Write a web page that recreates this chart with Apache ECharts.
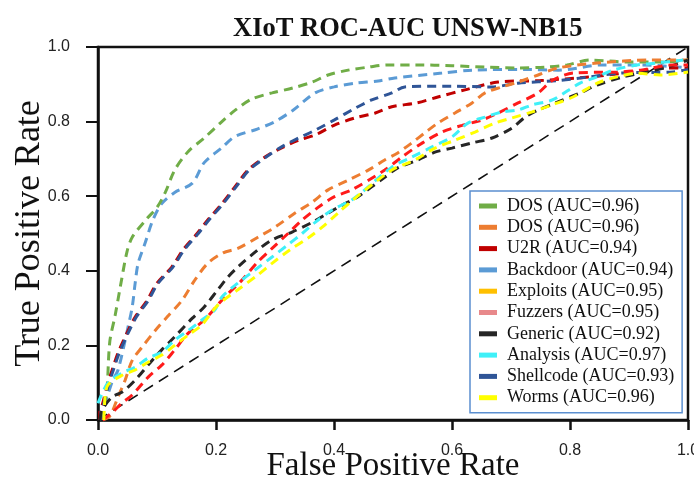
<!DOCTYPE html>
<html>
<head>
<meta charset="utf-8">
<script src="https://cdn.jsdelivr.net/npm/echarts@6/dist/echarts.min.js"></script>
<style>html,body{margin:0;padding:0;background:#fff}#c{width:694px;height:487px}</style>
</head>
<body>
<div id="c"></div>
<script>
const chartTitle = 'XIoT ROC-AUC UNSW-NB15';
const xName = 'False Positive Rate';
const yName = 'True Positive Rate';
const xTicks = [0, 0.2, 0.4, 0.6, 0.8, 1.0];
const yTicks = [0, 0.2, 0.4, 0.6, 0.8, 1.0];

const seriesNames = ['DOS (AUC=0.96)', 'DOS (AUC=0.96) ', 'U2R (AUC=0.94)', 'Backdoor (AUC=0.94)', 'Exploits (AUC=0.95)', 'Fuzzers (AUC=0.95)', 'Generic (AUC=0.92)', 'Analysis (AUC=0.97)', 'Shellcode (AUC=0.93)', 'Worms (AUC=0.96)'];
const legendColors = ['#70ad47', '#ed7d31', '#c00000', '#5b9bd5', '#ffc000', '#e8898b', '#262626', '#3ff0f8', '#2f5597', '#ffff00'];
const lineColors = ['#70ad47', '#ed7d31', '#c00000', '#5b9bd5', '#ffc000', '#ff1a1a', '#262626', '#3ff0f8', '#2f5597', '#ffff00'];

const dos1 = [[0.007,0],[0.015,0.08],[0.02,0.21],[0.029,0.28],[0.037,0.35],[0.049,0.45],[0.058,0.49],[0.083,0.54],[0.10,0.57],[0.114,0.61],[0.13,0.67],[0.153,0.72],[0.18,0.756],[0.21,0.80],[0.232,0.83],[0.26,0.86],[0.295,0.877],[0.33,0.89],[0.363,0.906],[0.39,0.925],[0.424,0.938],[0.458,0.946],[0.49,0.952],[0.54,0.952],[0.60,0.95],[0.656,0.946],[0.71,0.944],[0.758,0.946],[0.795,0.952],[0.834,0.965],[0.897,0.96],[0.964,0.96],[1.0,0.965]];
const dos2 = [[0.008,0],[0.02,0.01],[0.034,0.062],[0.046,0.107],[0.058,0.16],[0.075,0.196],[0.097,0.24],[0.117,0.276],[0.142,0.32],[0.164,0.375],[0.186,0.42],[0.212,0.448],[0.237,0.46],[0.271,0.49],[0.30,0.517],[0.334,0.555],[0.363,0.584],[0.39,0.617],[0.424,0.643],[0.458,0.67],[0.486,0.697],[0.508,0.716],[0.532,0.743],[0.554,0.77],[0.576,0.796],[0.605,0.823],[0.634,0.85],[0.656,0.877],[0.685,0.893],[0.712,0.906],[0.746,0.925],[0.78,0.944],[0.846,0.957],[0.936,0.965],[1.0,0.965]];
const u2r = [[0.003,0],[0.003,0.02],[0.008,0.045],[0.015,0.09],[0.024,0.134],[0.034,0.18],[0.049,0.233],[0.063,0.276],[0.083,0.32],[0.10,0.367],[0.125,0.41],[0.144,0.456],[0.168,0.50],[0.186,0.536],[0.21,0.58],[0.232,0.625],[0.254,0.67],[0.283,0.705],[0.312,0.73],[0.34,0.75],[0.368,0.764],[0.40,0.79],[0.436,0.81],[0.47,0.823],[0.498,0.84],[0.54,0.85],[0.576,0.866],[0.622,0.885],[0.678,0.906],[0.75,0.91],[0.834,0.92],[0.907,0.933],[0.964,0.944],[1.0,0.944]];
const backdoor = [[0.003,0],[0.025,0.107],[0.034,0.134],[0.051,0.25],[0.058,0.303],[0.063,0.367],[0.068,0.42],[0.08,0.475],[0.093,0.536],[0.108,0.58],[0.13,0.61],[0.16,0.635],[0.18,0.69],[0.21,0.73],[0.232,0.76],[0.27,0.78],[0.30,0.80],[0.33,0.83],[0.368,0.877],[0.40,0.893],[0.436,0.903],[0.475,0.909],[0.503,0.917],[0.583,0.93],[0.634,0.938],[0.724,0.94],[0.78,0.938],[0.856,0.952],[0.92,0.952],[1.0,0.944]];
const exploits = [];
const fuzzers = [[0.008,0],[0.024,0.02],[0.041,0.046],[0.058,0.067],[0.085,0.115],[0.108,0.147],[0.13,0.188],[0.153,0.233],[0.18,0.268],[0.215,0.33],[0.244,0.375],[0.271,0.424],[0.295,0.46],[0.322,0.50],[0.346,0.536],[0.373,0.57],[0.40,0.598],[0.43,0.617],[0.486,0.67],[0.515,0.705],[0.55,0.743],[0.583,0.772],[0.617,0.79],[0.65,0.804],[0.678,0.823],[0.712,0.85],[0.746,0.877],[0.77,0.91],[0.805,0.93],[0.88,0.933],[0.92,0.938],[0.975,0.952],[1.0,0.952]];
const generic = [[0.003,0],[0.007,0.027],[0.024,0.062],[0.041,0.075],[0.063,0.107],[0.088,0.153],[0.108,0.188],[0.13,0.223],[0.16,0.273],[0.18,0.303],[0.203,0.349],[0.22,0.383],[0.237,0.41],[0.271,0.456],[0.295,0.483],[0.329,0.504],[0.363,0.53],[0.39,0.555],[0.414,0.576],[0.44,0.598],[0.486,0.651],[0.508,0.676],[0.542,0.697],[0.571,0.718],[0.60,0.729],[0.634,0.743],[0.668,0.756],[0.702,0.783],[0.724,0.812],[0.746,0.831],[0.775,0.85],[0.817,0.877],[0.846,0.898],[0.89,0.92],[0.93,0.933],[0.964,0.946],[1.0,0.965]];
const analysis = [[0,0.045],[0.017,0.1],[0.041,0.126],[0.063,0.142],[0.085,0.166],[0.108,0.182],[0.13,0.214],[0.153,0.24],[0.176,0.268],[0.198,0.295],[0.21,0.33],[0.237,0.367],[0.266,0.402],[0.295,0.437],[0.322,0.47],[0.346,0.50],[0.368,0.53],[0.397,0.563],[0.43,0.59],[0.447,0.61],[0.498,0.678],[0.532,0.705],[0.566,0.732],[0.60,0.759],[0.627,0.796],[0.656,0.812],[0.685,0.826],[0.712,0.831],[0.736,0.845],[0.77,0.858],[0.817,0.903],[0.846,0.92],[0.873,0.938],[0.914,0.952],[0.947,0.957],[0.992,0.965]];
const shellcode = [[0.005,0],[0.005,0.02],[0.01,0.045],[0.017,0.09],[0.026,0.134],[0.036,0.18],[0.051,0.233],[0.065,0.276],[0.085,0.32],[0.102,0.367],[0.127,0.41],[0.146,0.456],[0.17,0.50],[0.188,0.536],[0.212,0.58],[0.234,0.625],[0.256,0.67],[0.285,0.705],[0.314,0.735],[0.34,0.756],[0.368,0.777],[0.40,0.804],[0.436,0.836],[0.464,0.858],[0.498,0.877],[0.52,0.893],[0.60,0.895],[0.668,0.893],[0.712,0.903],[0.78,0.91],[0.834,0.92],[0.885,0.93],[0.975,0.933],[1.0,0.94]];
const worms = [[0.01,0],[0.012,0.062],[0.017,0.094],[0.041,0.12],[0.063,0.134],[0.085,0.155],[0.108,0.174],[0.13,0.2],[0.153,0.228],[0.176,0.255],[0.203,0.308],[0.237,0.349],[0.271,0.389],[0.295,0.42],[0.325,0.456],[0.356,0.488],[0.38,0.517],[0.407,0.555],[0.432,0.59],[0.498,0.67],[0.537,0.697],[0.571,0.729],[0.605,0.75],[0.639,0.772],[0.673,0.796],[0.702,0.81],[0.736,0.826],[0.77,0.845],[0.805,0.866],[0.846,0.903],[0.88,0.92],[0.914,0.93],[0.953,0.925],[1.0,0.933]];
const diagonal = [[0,0],[1,1]];

const seriesData = [dos1, dos2, u2r, backdoor, exploits, fuzzers, generic, analysis, shellcode, worms];
const drawOrder = [3, 0, 2, 8, 1, 6, 5, 7, 4, 9];

const SERIF = "'Liberation Serif', 'Times New Roman', serif";
const SANS = "'Liberation Sans', Arial, sans-serif";

const series = [];
drawOrder.forEach(function (i) {
  series.push({
    name: seriesNames[i],
    type: 'line',
    data: seriesData[i],
    showSymbol: false,
    symbol: 'none',
    smooth: 0.3,
    itemStyle: { color: legendColors[i] },
    lineStyle: { color: lineColors[i], width: 3, type: [9, 6] },
    z: 3
  });
});
series.push({
  name: 'diag',
  type: 'line',
  data: diagonal,
  showSymbol: false,
  symbol: 'none',
  lineStyle: { color: '#111', width: 1.6, type: [11, 7] },
  z: 2
});

const chart = echarts.init(document.getElementById('c'), null, { renderer: 'canvas' });
chart.setOption({
  animation: false,
  backgroundColor: '#fff',
  graphic: [{
    type: 'text', left: 233, top: 16,
    style: { text: chartTitle, font: "bold 26.5px " + SERIF, fill: '#111' }
  }],
  grid: { left: 98, right: 6, top: 47, bottom: 67, show: true, borderColor: '#111', borderWidth: 2.5, outerBoundsMode: 'none', containLabel: false },
  xAxis: {
    type: 'value', min: 0, max: 1, interval: 0.2,
    name: xName, nameLocation: 'middle', nameGap: 30, nameMoveOverlap: false,
    nameTextStyle: { fontFamily: SERIF, fontSize: 33, color: '#111' },
    axisLine: { show: true, lineStyle: { color: '#111', width: 2.5 } },
    axisTick: { show: true, length: 10, lineStyle: { color: '#111', width: 2.5 } },
    axisLabel: { fontFamily: SANS, fontSize: 16, color: '#222', margin: 23, formatter: function (v) { return v.toFixed(1); } },
    splitLine: { show: false }
  },
  yAxis: {
    type: 'value', min: 0, max: 1, interval: 0.2,
    name: yName, nameLocation: 'middle', nameGap: 50, nameMoveOverlap: false,
    nameTextStyle: { fontFamily: SERIF, fontSize: 36, color: '#111' },
    axisLine: { show: true, lineStyle: { color: '#111', width: 2.5 } },
    axisTick: { show: true, length: 12, lineStyle: { color: '#111', width: 2 } },
    axisLabel: { fontFamily: SANS, fontSize: 16, color: '#222', margin: 28, formatter: function (v) { return v.toFixed(1); } },
    splitLine: { show: false }
  },
  legend: {
    orient: 'vertical', left: 470, top: 191,
    padding: [6, 8, 6, 9],
    backgroundColor: '#fff', borderColor: '#5b8fd0', borderWidth: 1.5, borderRadius: 0,
    icon: 'rect', itemWidth: 18, itemHeight: 5, itemGap: 3.3,
    textStyle: { fontFamily: SERIF, fontSize: 18, lineHeight: 18, color: '#111', padding: [0, 0, 0, 5] },
    formatter: function (n) { return n.trim(); },
    data: seriesNames.map(function (n, i) { return { name: n, icon: 'rect', itemStyle: { color: legendColors[i] } }; })
  },
  series: series
});
</script>
</body>
</html>
